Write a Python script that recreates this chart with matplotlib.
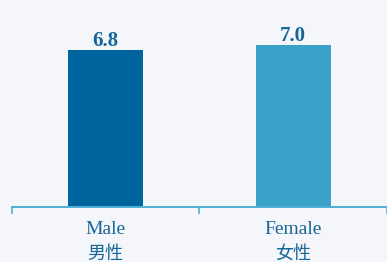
import matplotlib
matplotlib.use("Agg")
import matplotlib.pyplot as plt

categories_en = ["Male", "Female"]
categories_zh = ["男性", "女性"]
values = [6.8, 7.0]
bar_colors = ["#00659e", "#3aa2c8"]

bg = "#f4f6fa"
axis_color = "#4fafd6"
text_color = "#17669a"

fig = plt.figure(figsize=(3.87, 2.62), dpi=100, facecolor=bg)
ax = fig.add_axes([11.7 / 387, 55 / 262, 375.3 / 387, 207 / 262], facecolor=bg)

x = list(range(len(categories_en)))
ax.bar(x, values, width=0.4, color=bar_colors, zorder=2)

# value labels above bars
for xi, v in zip(x, values):
    ax.annotate(f"{v:.1f}", (xi, v), xytext=(0, 2.8), textcoords="offset points",
                ha="center", va="baseline", fontsize=15, fontweight="bold",
                family="Liberation Serif", color=text_color)

ax.set_xlim(-0.5, -0.5 + 375.3 / 190)
ax.set_ylim(0, 207 / 23.1)

for s in ["top", "right", "left"]:
    ax.spines[s].set_visible(False)
ax.spines["bottom"].set_color(axis_color)
ax.spines["bottom"].set_linewidth(1.4)
ax.set_yticks([])

# ticks sit on the group boundaries
ax.set_xticks([-0.5, 0.5, 1.5])
ax.set_xticklabels([])
ax.tick_params(axis="x", direction="out", length=5, width=1.2, color=axis_color)

trans = ax.get_xaxis_transform()
for xi, en, zh in zip(x, categories_en, categories_zh):
    ax.annotate(en, (xi, 0), xycoords=trans, xytext=(0, -19.4),
                textcoords="offset points", ha="center", va="baseline",
                fontsize=14, family="Liberation Serif", color=text_color,
                annotation_clip=False)
    ax.annotate(zh, (xi, 0), xycoords=trans, xytext=(0, -37.3),
                textcoords="offset points", ha="center", va="baseline",
                fontsize=13, family=["Noto Sans CJK SC", "DejaVu Sans"],
                color=text_color, annotation_clip=False)

fig.savefig("out.png", dpi=100, facecolor=bg)
